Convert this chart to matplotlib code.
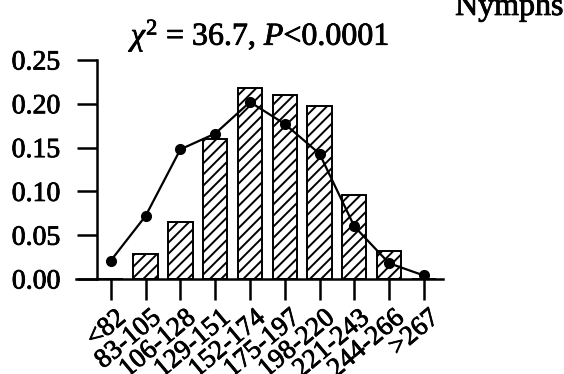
import matplotlib
matplotlib.use("Agg")
import matplotlib.pyplot as plt
import matplotlib.patheffects as pe
from matplotlib.transforms import ScaledTranslation

plt.rcParams['font.family'] = ['Liberation Serif', 'DejaVu Serif']
plt.rcParams['mathtext.fontset'] = 'custom'
plt.rcParams['mathtext.rm'] = 'Liberation Serif'
plt.rcParams['mathtext.it'] = 'Liberation Serif:italic'
plt.rcParams['hatch.linewidth'] = 1.4

# Body-length classes and relative frequencies
classes = ['<82', '83-105', '106-128', '129-151', '152-174', '175-197',
           '198-220', '221-243', '244-266', '>267']
observed = [0.0, 0.028, 0.065, 0.160, 0.218, 0.210, 0.197, 0.096, 0.032, 0.0]
expected = [0.021, 0.072, 0.148, 0.166, 0.202, 0.177, 0.143, 0.060, 0.018, 0.004]
yticks = [0.00, 0.05, 0.10, 0.15, 0.20, 0.25]

heavy = [pe.withStroke(linewidth=0.6, foreground='black')]

fig = plt.figure(figsize=(5.64, 3.74), dpi=100)
ax = fig.add_axes([0.1348, 0.254, 0.6507, 0.5856])

x = list(range(len(classes)))
ax.bar(x, observed, width=0.7, color='white', edgecolor='black',
       linewidth=1.4, hatch='///', zorder=2)
ax.plot(x, expected, color='black', lw=1.6, marker='o', markersize=7, zorder=3)

ax.set_xlim(-1.0, 9.55)
ax.set_ylim(0, 0.25)

for s in ('top', 'right'):
    ax.spines[s].set_visible(False)
ax.spines['left'].set_position(('data', -0.4))
ax.spines['left'].set_linewidth(1.8)
ax.spines['bottom'].set_linewidth(1.8)

ax.set_yticks(yticks)
ax.set_yticklabels([f'{v:.2f}' for v in yticks])
ax.tick_params(axis='y', direction='out', length=14.5, width=1.8, pad=12,
               labelsize=20)
ax.set_xticks(x)
ax.set_xticklabels(classes)
ax.tick_params(axis='x', direction='out', length=15, width=1.8, pad=4,
               labelsize=19.5)
shift = ScaledTranslation(4 / 100, 0, fig.dpi_scale_trans)
for lab in ax.get_xticklabels():
    lab.set_rotation(40)
    lab.set_ha('right')
    lab.set_va('top')
    lab.set_rotation_mode('anchor')
    lab.set_transform(lab.get_transform() + shift)
    lab.set_path_effects(heavy)
for lab in ax.get_yticklabels():
    lab.set_path_effects(heavy)

fig.text(0.232, 0.88, r'$\chi^2$ = 36.7, $P$<0.0001', fontsize=23,
         ha='left', va='baseline', path_effects=heavy)
fig.text(0.807, 0.96, 'Nymphs', fontsize=23, ha='left', va='baseline',
         path_effects=heavy)

fig.savefig('out.png', dpi=100)
